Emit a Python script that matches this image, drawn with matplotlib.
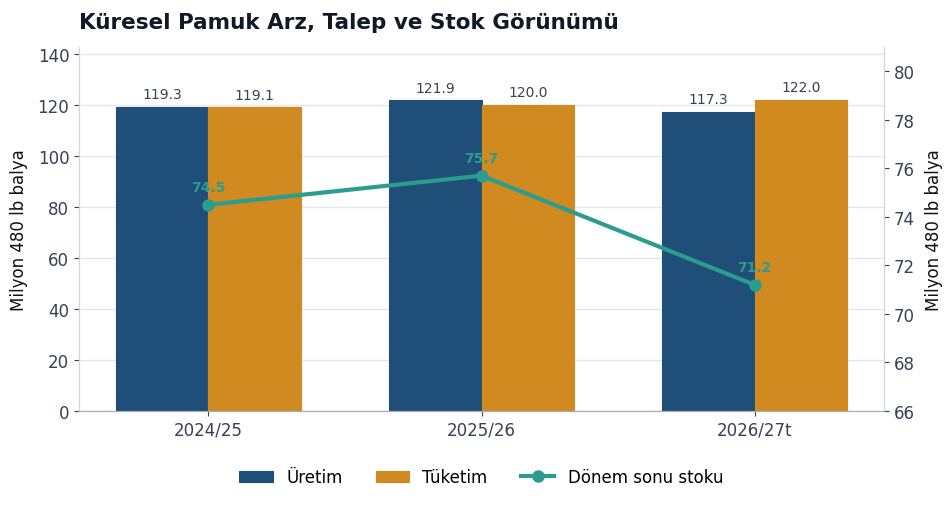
import numpy as np
import matplotlib
matplotlib.use("Agg")
import matplotlib.pyplot as plt

seasons = ["2024/25", "2025/26", "2026/27t"]
uretim = [119.3, 121.9, 117.3]
tuketim = [119.1, 120.0, 122.0]
stok = [74.5, 75.7, 71.2]

c_ur = "#1f4e79"
c_tu = "#d08a1f"
c_st = "#2a9d8f"
c_txt = "#374151"

fig = plt.figure(figsize=(9.53, 5.06), dpi=100)
ax = fig.add_axes([0.0829, 0.1858, 0.8447, 0.7192])
ax2 = ax.twinx()

x = np.arange(len(seasons))
w = 0.34
b1 = ax.bar(x - w / 2, uretim, w, color=c_ur, edgecolor=c_ur, linewidth=0.8, label="Üretim", zorder=2)
b2 = ax.bar(x + w / 2, tuketim, w, color=c_tu, edgecolor=c_tu, linewidth=0.8, label="Tüketim", zorder=2)
for bars in (b1, b2):
    for r in bars:
        ax.annotate(f"{r.get_height():.1f}", (r.get_x() + r.get_width() / 2, r.get_height()),
                    xytext=(0, 4), textcoords="offset points", ha="center", va="bottom",
                    fontsize=10, color=c_txt)

ax.set_ylim(0, max(tuketim) * 1.17)
ax.set_yticks(range(0, 141, 20))
ax.grid(axis="y", color="#e5e7eb", linewidth=1, zorder=0)
ax.set_axisbelow(True)
ax.set_xticks(x)
ax.set_xticklabels(seasons)
ax.set_ylabel("Milyon 480 lb balya", fontsize=12, color="#111111", labelpad=7)

ln, = ax2.plot(x, stok, color=c_st, linewidth=3, marker="o", markersize=8, label="Dönem sonu stoku", zorder=3)
for xi, v in zip(x, stok):
    ax2.annotate(f"{v:.1f}", (xi, v), xytext=(0, 8), textcoords="offset points", ha="center",
                 va="bottom", fontsize=10, fontweight="bold", color=c_st)
ax2.set_ylim(66, 81)
ax2.set_yticks(range(66, 81, 2))
ax2.set_ylabel("Milyon 480 lb balya", fontsize=12, color="#111111", labelpad=7)

for a in (ax, ax2):
    a.tick_params(labelsize=12, colors=c_txt)
    a.spines["top"].set_visible(False)
    a.spines["left"].set_color("#d1d5db")
    a.spines["right"].set_color("#d1d5db")
    a.spines["bottom"].set_color("#a0aec0")

ax.set_zorder(ax2.get_zorder() - 1)
ax2.patch.set_visible(False)

fig.text(0.0829, 0.955, "Küresel Pamuk Arz, Talep ve Stok Görünümü", fontsize=15.5, fontweight="bold",
         color="#111827", ha="left", va="center")

fig.legend(handles=[b1, b2, ln], loc="center", bbox_to_anchor=(0.505, 0.055), ncol=3, frameon=False,
           fontsize=12, handlelength=2.0, columnspacing=2.0)

fig.savefig("out.png", dpi=100)
